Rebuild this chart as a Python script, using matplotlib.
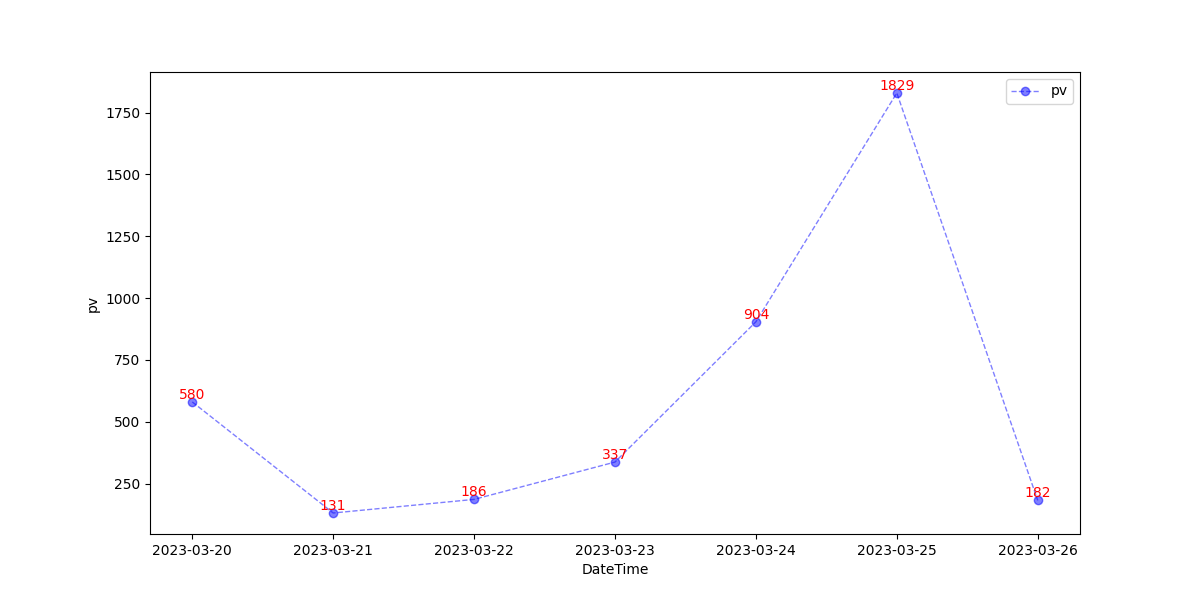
import matplotlib
matplotlib.use('Agg')
import matplotlib.pyplot as plt

dates = ['2023-03-20', '2023-03-21', '2023-03-22', '2023-03-23',
         '2023-03-24', '2023-03-25', '2023-03-26']
pv = [580, 131, 186, 337, 904, 1829, 182]

fig, ax = plt.subplots(figsize=(12, 6), dpi=100)
ax.plot(dates, pv, color='blue', linestyle='--', linewidth=1, marker='o',
        alpha=0.5, label='pv')

# value labels above each point
for d, v in zip(dates, pv):
    ax.text(d, v, str(v), color='red', ha='center', va='bottom', fontsize=10)

ax.set_xlabel('DateTime')
ax.set_ylabel('pv')
ax.legend(loc='upper right')

plt.savefig('out.png', dpi=100)
